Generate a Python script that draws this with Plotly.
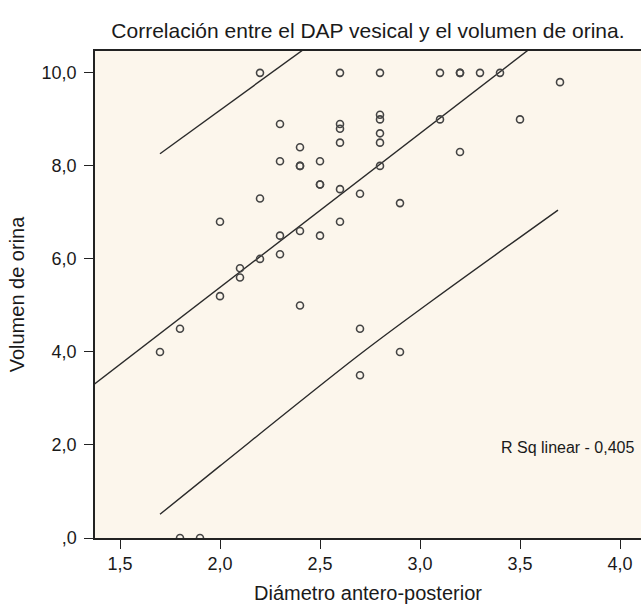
import plotly.graph_objects as go

# diametro antero-posterior (x) vs volumen de orina (y)
dap = [1.7, 1.8, 1.8, 1.9, 2.0, 2.0, 2.1, 2.1, 2.2, 2.2, 2.2,
       2.3, 2.3, 2.3, 2.3, 2.4, 2.4, 2.4, 2.4, 2.4,
       2.5, 2.5, 2.5, 2.5, 2.6, 2.6, 2.6, 2.6, 2.6, 2.6,
       2.7, 2.7, 2.7, 2.8, 2.8, 2.8, 2.8, 2.8, 2.8,
       2.9, 2.9, 3.1, 3.1, 3.2, 3.2, 3.2, 3.3, 3.4, 3.5, 3.7]
volumen = [4.0, 4.5, 0.0, 0.0, 5.2, 6.8, 5.8, 5.6, 6.0, 7.3, 10.0,
           6.1, 6.5, 8.1, 8.9, 5.0, 6.6, 8.0, 8.0, 8.4,
           6.5, 7.6, 7.6, 8.1, 6.8, 7.5, 8.5, 8.8, 8.9, 10.0,
           3.5, 4.5, 7.4, 8.0, 8.5, 8.7, 9.0, 9.1, 10.0,
           4.0, 7.2, 9.0, 10.0, 8.3, 10.0, 10.0, 10.0, 10.0, 9.0, 9.8]

# lines
fit_x = [1.37, 3.55]
fit_y = [3.30, 10.52]
upper_x = [1.7, 2.42]
upper_y = [8.26, 10.51]
lower_x = [1.7, 2.0, 2.7, 3.06, 3.69]
lower_y = [0.51, 1.55, 3.95, 5.10, 7.05]

x_ticks = [1.5, 2.0, 2.5, 3.0, 3.5, 4.0]
x_labels = ["1,5", "2,0", "2,5", "3,0", "3,5", "4,0"]
y_ticks = [0, 2, 4, 6, 8, 10]
y_labels = [",0", "2,0", "4,0", "6,0", "8,0", "10,0"]

font_family = "Liberation Sans, Arial, sans-serif"
line_col = "#2a2a2a"

fig = go.Figure()

for lx, ly in [(fit_x, fit_y), (upper_x, upper_y), (lower_x, lower_y)]:
    fig.add_trace(go.Scatter(
        x=lx, y=ly, mode="lines",
        line=dict(color=line_col, width=1.4, shape="spline", smoothing=1),
        showlegend=False, hoverinfo="skip"))

fig.add_trace(go.Scatter(
    x=dap, y=volumen, mode="markers",
    marker=dict(symbol="circle-open", size=7, color="#444444",
                line=dict(width=1.6, color="#444444")),
    showlegend=False))

fig.add_annotation(
    x=3.74, y=1.94, text="R Sq linear - 0,405", showarrow=False,
    xanchor="center", yanchor="middle",
    font=dict(size=16, color="#1a1a1a", family=font_family))

fig.update_layout(
    width=641, height=604,
    margin=dict(l=95, r=0, t=51, b=66),
    paper_bgcolor="white",
    plot_bgcolor="#fcf6ec",
    font=dict(family=font_family, color="#1a1a1a"),
    title=dict(text="Correlación entre el DAP vesical y el volumen de orina.",
               x=0.574, xanchor="center", y=1 - 31 / 604, yanchor="middle",
               yref="container", font=dict(size=21)),
    xaxis=dict(
        range=[1.375, 4.105], tickvals=x_ticks, ticktext=x_labels,
        ticks="outside", ticklen=9, tickwidth=1.3, tickcolor="#222",
        showline=True, linecolor="#222", linewidth=1.5, mirror=True,
        showgrid=False, zeroline=False,
        tickfont=dict(size=18),
        title=dict(text="Diámetro antero-posterior", font=dict(size=20),
                   standoff=13)),
    yaxis=dict(
        range=[0, 10.47], tickvals=y_ticks, ticktext=y_labels,
        ticks="outside", ticklen=9, tickwidth=1.3, tickcolor="#222",
        showline=True, linecolor="#222", linewidth=1.5,
        showgrid=False, zeroline=False,
        tickfont=dict(size=18), ticklabelstandoff=4,
        title=dict(text="Volumen de orina", font=dict(size=20),
                   standoff=12)),
)

# drop the default page margin so the figure sits at the window corner
fig.write_html("out.html", config={"displayModeBar": False},
               post_script="document.body.style.margin='0';")
